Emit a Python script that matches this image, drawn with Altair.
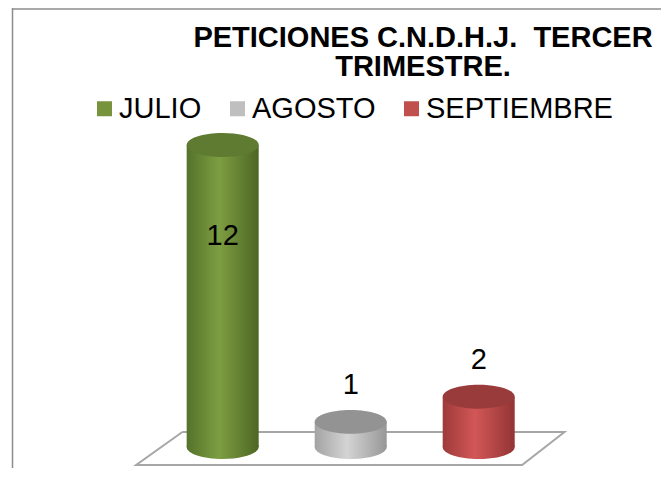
import altair as alt
import pandas as pd

# ---- data ----
meses = ["JULIO", "AGOSTO", "SEPTIEMBRE"]
peticiones = [12, 1, 2]
colores_leyenda = ["#77933C", "#BFBFBF", "#C0504D"]
colores_tapa = ["#5f7a31", "#939393", "#9a3b3b"]
gradientes = [
    ["#55722a", "#7d9e42", "#4d6624"],
    ["#a3a3a3", "#d4d4d4", "#979797"],
    ["#9e3a3a", "#d25757", "#933434"],
]
titulo = ["PETICIONES C.N.D.H.J.\u00a0 TERCER", "TRIMESTRE."]

# floor of the 3D plot (in data units)
piso_x = [-0.315, 2.67, 2.339, -0.676, -0.315]
piso_y = [0.598, 0.598, -0.714, -0.714, 0.598]

FONT = "Liberation Sans"
W, H = 653, 460
ELIPSE = "M -1 0 A 1 0.333 0 1 1 1 0 A 1 0.333 0 1 1 -1 0 Z"
ANCHO = 72

df = pd.DataFrame({"mes": meses, "valor": peticiones, "idx": list(range(len(meses)))})
piso = pd.DataFrame({"fx": piso_x, "fy": piso_y, "k": list(range(len(piso_x)))})
uno = pd.DataFrame({"u": [0]})

xs = alt.Scale(domain=[-1.638, 3.385], nice=False, zero=False)
ys = alt.Scale(domain=[-0.833, 17.443], nice=False, zero=False)
X = alt.X("idx:Q", scale=xs, axis=None)

layers = []

# border of the chart area
layers.append(alt.Chart(uno).mark_rule(color="#8c8c8c", strokeWidth=1.5).encode(
    x=alt.value(4), x2=alt.value(W), y=alt.value(1)))
layers.append(alt.Chart(uno).mark_rule(color="#8c8c8c", strokeWidth=1.5).encode(
    x=alt.value(4.5), y=alt.value(0), y2=alt.value(H)))

# floor
layers.append(alt.Chart(piso).mark_line(color="#a6a6a6", strokeWidth=2).encode(
    x=alt.X("fx:Q", scale=xs, axis=None),
    y=alt.Y("fy:Q", scale=ys, axis=None),
    order="k:Q"))

# hidden squares carrying the legend
layers.append(alt.Chart(df).mark_square(size=30, opacity=1).transform_calculate(base="0").encode(
    x=X,
    y=alt.Y("base:Q", scale=ys, axis=None),
    color=alt.Color("mes:N", scale=alt.Scale(domain=meses, range=colores_leyenda),
                    legend=alt.Legend(title=None, orient="none", legendX=82, legendY=86,
                                      direction="horizontal", symbolType="square",
                                      symbolSize=225, symbolStrokeWidth=0,
                                      labelFont=FONT, labelFontSize=29, labelColor="black",
                                      labelOffset=0, columnPadding=21, labelLimit=0,
                                      padding=0))))

for i, mes in enumerate(meses):
    g = gradientes[i]
    grad = {"gradient": "linear", "x1": 0, "x2": 1, "y1": 0, "y2": 0,
            "stops": [{"offset": 0, "color": g[0]},
                      {"offset": 0.45, "color": g[1]},
                      {"offset": 1, "color": g[2]}]}
    base = alt.Chart(df).transform_filter(alt.datum.mes == mes)
    # bottom ellipse
    layers.append(base.mark_point(shape=ELIPSE, size=ANCHO * ANCHO, filled=True, fill=grad,
                                  strokeWidth=0, opacity=1).transform_calculate(base="0").encode(
        x=X, y=alt.Y("base:Q", scale=ys, axis=None)))
    # body
    layers.append(base.mark_bar(size=ANCHO, fill=grad, strokeWidth=0).encode(
        x=X, y=alt.Y("valor:Q", scale=ys, axis=None), y2=alt.datum(0)))
    # top ellipse
    layers.append(base.mark_point(shape=ELIPSE, size=ANCHO * ANCHO, filled=True,
                                  fill=colores_tapa[i], strokeWidth=0, opacity=1).encode(
        x=X, y=alt.Y("valor:Q", scale=ys, axis=None)))

# value labels
layers.append(alt.Chart(df).mark_text(font=FONT, fontSize=29, color="black",
                                      baseline="middle", align="center").transform_calculate(
    ly="datum.valor >= 10 ? datum.valor * 0.7 : datum.valor + 1.45").encode(
    x=X, y=alt.Y("ly:Q", scale=ys, axis=None), text="valor:Q"))

# title
layers.append(alt.Chart(uno).mark_text(text=titulo, font=FONT, fontSize=29, fontWeight="bold",
                                       lineHeight=29, align="center", baseline="alphabetic",
                                       color="black").encode(
    x=alt.value(415), y=alt.value(39)))

chart = alt.layer(*layers).properties(
    width=W, height=H, padding=0,
    autosize=alt.AutoSizeParams(type="none"),
    background="white",
).configure_view(stroke=None)

chart.save("out.html", embed_options={"renderer": "svg", "actions": False})
